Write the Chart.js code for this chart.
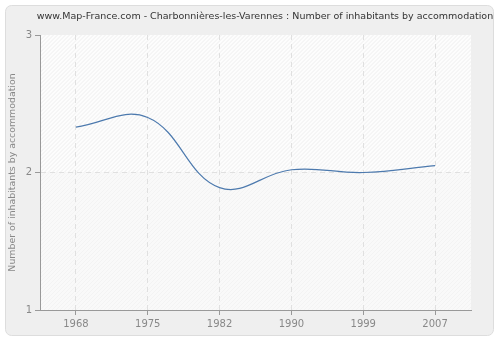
<!DOCTYPE html>
<html>
<head>
<meta charset="utf-8">
<script src="https://cdn.jsdelivr.net/npm/chart.js@4"></script>
<style>
  html, body { margin: 0; padding: 0; background: #ffffff; }
  #wrap { width: 500px; height: 340px; }
</style>
</head>
<body>
<div id="wrap"><canvas id="chart" width="500" height="340"></canvas></div>
<script>
// data
const years = ["1968", "1975", "1982", "1990", "1999", "2007"];
const inhabitantsPerHome = [2.33, 2.40, 1.89, 2.02, 2.00, 2.05];
const yTicks = [1, 2, 3];

const titleText = "www.Map-France.com - Charbonnières-les-Varennes : Number of inhabitants by accommodation";
const axisTitle = "Number of inhabitants by accommodation";

// grey frame, hatched plot area, and the title line
const backdrop = {
    id: "backdrop",
    beforeDraw(chart) {
        const ctx = chart.ctx;
        const area = chart.chartArea;
        const w = area.right - area.left;
        const mid = chart.scales.y.getPixelForValue(2);
        ctx.save();
        // outer rounded panel
        ctx.fillStyle = "#efefef";
        ctx.strokeStyle = "#dddddd";
        ctx.lineWidth = 1;
        ctx.beginPath();
        ctx.roundRect(5.5, 5.5, 488, 330, 6);
        ctx.fill();
        ctx.stroke();

        // plot area: upper half whiter, lower half slightly grey
        ctx.fillStyle = "#fdfdfd";
        ctx.fillRect(area.left, area.top, w, mid - area.top);
        ctx.fillStyle = "#f9f9f9";
        ctx.fillRect(area.left, mid, w, area.bottom - mid);

        // diagonal hatch "/"
        ctx.beginPath();
        ctx.rect(area.left, area.top, w, area.bottom - area.top);
        ctx.clip();
        ctx.lineWidth = 1;
        for (let x = area.left - 300; x < area.right + 10; x += 4) {
            ctx.strokeStyle = "#eeeeee";
            ctx.beginPath();
            ctx.moveTo(x, mid);
            ctx.lineTo(x + (mid - area.top), area.top);
            ctx.stroke();
            ctx.strokeStyle = "#f3f3f3";
            ctx.beginPath();
            ctx.moveTo(x, area.bottom);
            ctx.lineTo(x + (area.bottom - mid), mid);
            ctx.stroke();
        }
        ctx.restore();

        ctx.save();
        ctx.fillStyle = "#333333";
        ctx.font = "9.5px 'DejaVu Sans'";
        ctx.textAlign = "center";
        ctx.textBaseline = "middle";
        ctx.fillText(titleText, 265, 17);
        ctx.restore();
    }
};

const gridColor = (c) => (c.tick && (c.tick.value === 1 || c.tick.value === 3)) ? "rgba(0,0,0,0)" : "#e0e0e0";

new Chart(document.getElementById("chart"), {
    type: "line",
    data: {
        labels: years,
        datasets: [{
            data: inhabitantsPerHome,
            borderColor: "#4d7aae",
            borderWidth: 1.2,
            pointRadius: 0,
            tension: 0.4,
            fill: false
        }]
    },
    options: {
        responsive: false,
        animation: false,
        layout: { padding: { top: 35, right: 29, bottom: 0, left: 0 } },
        plugins: {
            legend: { display: false },
            tooltip: { enabled: false },
            title: { display: false }
        },
        scales: {
            x: {
                offset: true,
                grid: {
                    color: "#e0e0e0",
                    tickColor: "#999999",
                    tickBorderDash: [],
                    tickLength: 5,
                    offset: false
                },
                border: { display: true, color: "#999999", dash: [5, 4] },
                ticks: {
                    color: "#888888",
                    font: { family: "DejaVu Sans", size: 10 },
                    padding: 3,
                    maxRotation: 0
                },
                afterFit(scale) { scale.height = 30; }
            },
            y: {
                min: 1,
                max: 3,
                afterBuildTicks(scale) { scale.ticks = yTicks.map(v => ({ value: v })); },
                grid: {
                    color: gridColor,
                    tickColor: "#999999",
                    tickBorderDash: [],
                    tickLength: 5
                },
                border: { display: true, color: "#999999", dash: [5, 4] },
                ticks: {
                    color: "#888888",
                    font: { family: "DejaVu Sans", size: 10 },
                    padding: 3
                },
                title: {
                    display: true,
                    text: axisTitle,
                    color: "#888888",
                    font: { family: "DejaVu Sans", size: 9.4 },
                    padding: { top: 7, bottom: 0 }
                },
                afterFit(scale) { scale.width = 40; }
            }
        }
    },
    plugins: [backdrop]
});
</script>
</body>
</html>
